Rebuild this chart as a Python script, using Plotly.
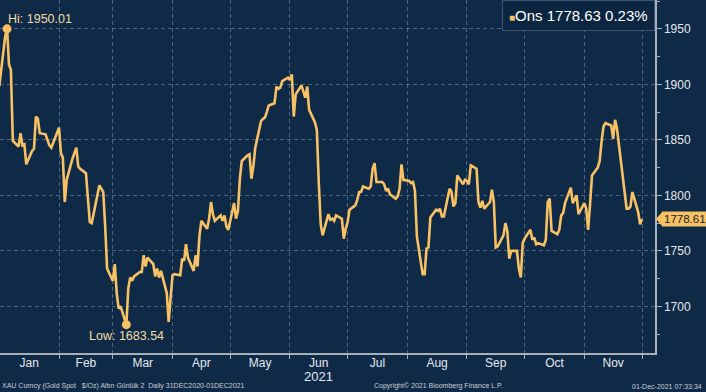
import plotly.graph_objects as go
import numpy as np
import pandas as pd

dates = [
    "2020-12-31", "2021-01-01", "2021-01-04", "2021-01-05", "2021-01-06", "2021-01-07", "2021-01-08",
    "2021-01-11", "2021-01-12", "2021-01-13", "2021-01-14", "2021-01-15", "2021-01-18", "2021-01-19",
    "2021-01-20", "2021-01-21", "2021-01-22", "2021-01-25", "2021-01-26", "2021-01-27", "2021-01-28",
    "2021-01-29",
    "2021-02-01", "2021-02-02", "2021-02-03", "2021-02-04", "2021-02-05", "2021-02-08", "2021-02-09",
    "2021-02-10", "2021-02-11", "2021-02-12", "2021-02-15", "2021-02-16", "2021-02-17", "2021-02-18",
    "2021-02-19", "2021-02-22", "2021-02-23", "2021-02-24", "2021-02-25", "2021-02-26",
    "2021-03-01", "2021-03-02", "2021-03-03", "2021-03-04", "2021-03-05", "2021-03-08", "2021-03-09",
    "2021-03-10", "2021-03-11", "2021-03-12", "2021-03-15", "2021-03-16", "2021-03-17", "2021-03-18",
    "2021-03-19", "2021-03-22", "2021-03-23", "2021-03-24", "2021-03-25", "2021-03-26", "2021-03-29",
    "2021-03-30", "2021-03-31",
    "2021-04-01", "2021-04-02", "2021-04-05", "2021-04-06", "2021-04-07", "2021-04-08", "2021-04-09",
    "2021-04-12", "2021-04-13", "2021-04-14", "2021-04-15", "2021-04-16", "2021-04-19", "2021-04-20",
    "2021-04-21", "2021-04-22", "2021-04-23", "2021-04-26", "2021-04-27", "2021-04-28", "2021-04-29",
    "2021-04-30",
    "2021-05-03", "2021-05-04", "2021-05-05", "2021-05-06", "2021-05-07", "2021-05-10", "2021-05-11",
    "2021-05-12", "2021-05-13", "2021-05-14", "2021-05-17", "2021-05-18", "2021-05-19", "2021-05-20",
    "2021-05-21", "2021-05-24", "2021-05-25", "2021-05-26", "2021-05-27", "2021-05-28", "2021-05-31",
    "2021-06-01", "2021-06-02", "2021-06-03", "2021-06-04", "2021-06-07", "2021-06-08", "2021-06-09",
    "2021-06-10", "2021-06-11", "2021-06-14", "2021-06-15", "2021-06-16", "2021-06-17", "2021-06-18",
    "2021-06-21", "2021-06-22", "2021-06-23", "2021-06-24", "2021-06-25", "2021-06-28", "2021-06-29",
    "2021-06-30",
    "2021-07-01", "2021-07-02", "2021-07-05", "2021-07-06", "2021-07-07", "2021-07-08", "2021-07-09",
    "2021-07-12", "2021-07-13", "2021-07-14", "2021-07-15", "2021-07-16", "2021-07-19", "2021-07-20",
    "2021-07-21", "2021-07-22", "2021-07-23", "2021-07-26", "2021-07-27", "2021-07-28", "2021-07-29",
    "2021-07-30",
    "2021-08-02", "2021-08-03", "2021-08-04", "2021-08-05", "2021-08-06", "2021-08-09", "2021-08-10",
    "2021-08-11", "2021-08-12", "2021-08-13", "2021-08-16", "2021-08-17", "2021-08-18", "2021-08-19",
    "2021-08-20", "2021-08-23", "2021-08-24", "2021-08-25", "2021-08-26", "2021-08-27", "2021-08-30",
    "2021-08-31",
    "2021-09-01", "2021-09-02", "2021-09-03", "2021-09-06", "2021-09-07", "2021-09-08", "2021-09-09",
    "2021-09-10", "2021-09-13", "2021-09-14", "2021-09-15", "2021-09-16", "2021-09-17", "2021-09-20",
    "2021-09-21", "2021-09-22", "2021-09-23", "2021-09-24", "2021-09-27", "2021-09-28", "2021-09-29",
    "2021-09-30",
    "2021-10-01", "2021-10-04", "2021-10-05", "2021-10-06", "2021-10-07", "2021-10-08", "2021-10-11",
    "2021-10-12", "2021-10-13", "2021-10-14", "2021-10-15", "2021-10-18", "2021-10-19", "2021-10-20",
    "2021-10-21", "2021-10-22", "2021-10-25", "2021-10-26", "2021-10-27", "2021-10-28", "2021-10-29",
    "2021-11-01", "2021-11-02", "2021-11-03", "2021-11-04", "2021-11-05", "2021-11-08", "2021-11-09",
    "2021-11-10", "2021-11-11", "2021-11-12", "2021-11-15", "2021-11-16", "2021-11-17", "2021-11-18",
    "2021-11-19", "2021-11-22", "2021-11-23", "2021-11-24", "2021-11-25", "2021-11-26", "2021-11-29",
    "2021-11-30", "2021-12-01",
]

prices = [
    1898, 1899, 1943, 1950.01, 1918, 1913, 1849,
    1844, 1856, 1845, 1846, 1828, 1840, 1842,
    1871, 1869, 1856, 1855, 1850, 1845, 1843,
    1848,
    1861, 1838, 1834, 1794, 1814, 1833, 1838,
    1843, 1826, 1824, 1820, 1799, 1776, 1775,
    1784, 1809, 1806, 1803, 1772, 1734,
    1723, 1738, 1712, 1698, 1700, 1683.54, 1716,
    1726, 1723, 1727, 1731, 1731, 1746, 1736,
    1744, 1738, 1727, 1734, 1726, 1732, 1712,
    1686, 1708,
    1728, 1729, 1728, 1743, 1741, 1756, 1744,
    1732, 1746, 1736, 1764, 1777, 1770, 1779,
    1794, 1783, 1777, 1782, 1777, 1782, 1772,
    1769,
    1793, 1779, 1786, 1815, 1831, 1836, 1837,
    1815, 1826, 1843, 1867, 1869, 1870, 1875,
    1881, 1883, 1898, 1896, 1897, 1903, 1906,
    1904, 1909, 1871, 1891, 1899, 1893, 1888,
    1898, 1877, 1866, 1859, 1812, 1774, 1764,
    1783, 1778, 1779, 1777, 1782, 1779, 1761,
    1770,
    1776, 1787, 1791, 1796, 1803, 1803, 1808,
    1806, 1808, 1824, 1829, 1812, 1812, 1810,
    1804, 1806, 1801, 1797, 1799, 1806, 1828,
    1814,
    1813, 1811, 1812, 1804, 1763, 1729, 1729,
    1752, 1753, 1780, 1787, 1786, 1788, 1781,
    1781, 1806, 1803, 1790, 1793, 1818, 1810,
    1814,
    1813, 1810, 1827, 1824, 1794, 1789, 1795,
    1788, 1794, 1805, 1794, 1753, 1754, 1764,
    1775, 1768, 1743, 1750, 1750, 1734, 1726,
    1757,
    1761, 1769, 1760, 1762, 1756, 1757, 1755,
    1760, 1794, 1797, 1768, 1765, 1769, 1782,
    1784, 1793, 1807, 1793, 1797, 1800, 1783,
    1793, 1788, 1769, 1792, 1818, 1825, 1831,
    1849, 1862, 1865, 1863, 1851, 1868, 1860,
    1846, 1805, 1788, 1788, 1790, 1803, 1785,
    1774, 1778.61,
]

y_ticks = [1700, 1750, 1800, 1850, 1900, 1950]
legend_text = "Ons 1778.63 0.23%"
year_label = "2021"
footer_left = "XAU Curncy (Gold Spot   $/Oz) Altın Günlük 2  Daily 31DEC2020-01DEC2021"
footer_mid = "Copyright\u00a9 2021 Bloomberg Finance L.P."
footer_right = "01-Dec-2021 07:33:34"

BG = "#0f2a47"
LINE = "#f7c164"
LABEL = "#efdca4"
TXT = "#e4e8ee"
GRID = "rgba(150,170,195,0.45)"
AXIS = "#a8b0ba"

x = pd.to_datetime(dates)
y = np.array(prices)
hi_i = int(np.argmax(y))
lo_i = int(np.argmin(y))

fig = go.Figure()
fig.add_trace(go.Scatter(x=x, y=y, mode="lines",
                         line=dict(color=LINE, width=2.6), showlegend=False,
                         hoverinfo="skip"))
fig.add_trace(go.Scatter(x=[x[hi_i], x[lo_i]], y=[y[hi_i], y[lo_i]], mode="markers",
                         marker=dict(color=LINE, size=9), showlegend=False,
                         cliponaxis=False, hoverinfo="skip"))

fig.add_annotation(x=x[hi_i], y=y[hi_i], text=f"Hi: {y[hi_i]:.2f}", showarrow=False,
                   xanchor="left", yanchor="bottom", xshift=-1, yshift=1,
                   font=dict(color=LABEL, size=12.5, family="Liberation Sans"))
fig.add_annotation(x=x[lo_i], y=y[lo_i], text=f"Low: {y[lo_i]:.2f}", showarrow=False,
                   xanchor="center", yanchor="top", yshift=-2,
                   font=dict(color=LABEL, size=12.5, family="Liberation Sans"))

# legend box
fig.add_annotation(xref="paper", yref="paper", x=1, y=1, xanchor="right", yanchor="top",
                   text=f"<span style='font-size:10px;color:{LINE}'>\u25a0</span>{legend_text}",
                   showarrow=False, bgcolor="#0c2540", bordercolor="#3d5571", borderwidth=1,
                   borderpad=6, font=dict(color="#ffffff", size=15, family="Liberation Sans"))

# last price tag
fig.add_annotation(xref="paper", yref="y", x=1, y=y[-1], xanchor="left", yanchor="middle",
                   xshift=7, text=f"{y[-1]:.2f}", showarrow=False, bgcolor=LINE,
                   borderpad=1, font=dict(color="#1a1f2a", size=11.5, family="Liberation Sans"))
fig.add_shape(type="path", xref="paper", yref="y", xsizemode="pixel", ysizemode="pixel",
              xanchor=1, yanchor=y[-1], path="M 1,0 L 8,-8 L 8,8 Z",
              fillcolor=LINE, line=dict(width=0))

# year under Jun
fig.add_annotation(xref="x", yref="paper", x="2021-06-16", y=0, yanchor="middle", yshift=-23,
                   text=year_label, showarrow=False,
                   font=dict(color=TXT, size=13, family="Liberation Sans"))

# footer
ff = dict(color="#c9ced6", size=7, family="Liberation Sans")
fig.add_annotation(xref="paper", yref="paper", x=0, y=0, xanchor="left", yanchor="middle",
                   xshift=0, yshift=-33, text=footer_left, showarrow=False, font=ff)
fig.add_annotation(xref="paper", yref="paper", x=0.669, y=0, xanchor="center", yanchor="middle",
                   yshift=-33, text=footer_mid, showarrow=False, font=ff)
fig.add_annotation(xref="paper", yref="paper", x=1, y=0, xanchor="right", yanchor="middle",
                   xshift=49, yshift=-33, text=footer_right, showarrow=False, font=ff)

fig.update_layout(
    width=706, height=392,
    margin=dict(l=0, r=51, t=0, b=39),
    paper_bgcolor=BG, plot_bgcolor=BG,
    font=dict(family="Liberation Sans", color=TXT),
    showlegend=False,
    hovermode=False,
)
fig.update_xaxes(
    type="date", range=["2021-01-01 08:00", "2021-12-07 18:00"],
    tick0="2021-01-01", dtick="M1", tickformat="%b", ticklabelmode="period",
    showgrid=True, gridcolor=GRID, griddash="4px,3px", gridwidth=1,
    showline=True, linecolor=AXIS, linewidth=1.5,
    ticks="outside", ticklen=4, tickcolor=AXIS, ticklabelstandoff=-6,
    tickfont=dict(size=12, color=TXT), zeroline=False,
)
fig.update_yaxes(
    side="right", range=[1658, 1976], tickvals=y_ticks,
    showgrid=True, gridcolor=GRID, griddash="4px,3px", gridwidth=1,
    showline=True, linecolor=AXIS, linewidth=1.5,
    ticks="outside", ticklen=5, tickcolor=AXIS,
    minor=dict(dtick=25, tick0=1650, ticks="outside", ticklen=3, tickcolor=AXIS, showgrid=False),
    tickfont=dict(size=12, color=TXT), zeroline=False,
)

fig.write_html("out.html", config={"displayModeBar": False, "staticPlot": True},
               post_script="document.body.style.margin='0';document.body.style.background='"
                           + BG + "';")
